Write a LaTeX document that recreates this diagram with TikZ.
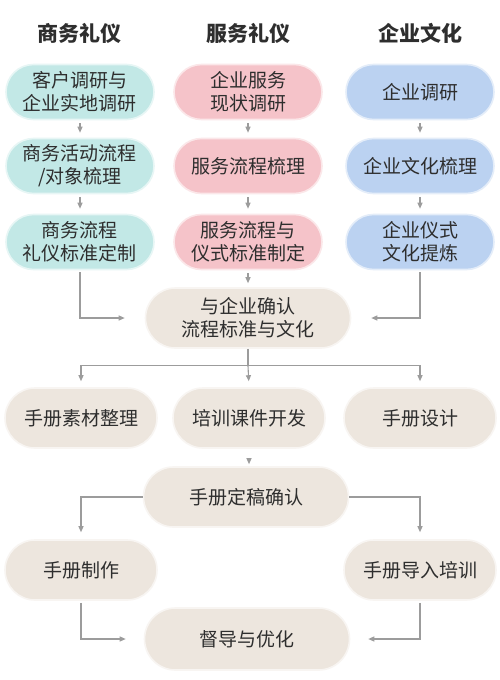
\documentclass[tikz,border=0pt]{standalone}
\usepackage{fontspec}
\setmainfont{Noto Sans CJK SC}
\usetikzlibrary{arrows.meta,calc,shapes.misc}
\definecolor{txt}{HTML}{2E2E2E}
\definecolor{lc}{HTML}{9C9C9C}
\definecolor{teal}{HTML}{C2E8E6}
\definecolor{pink}{HTML}{F5C3C9}
\definecolor{blue}{HTML}{BBD2F1}
\definecolor{beige}{HTML}{EDE6DE}
\begin{document}
\begin{tikzpicture}[x=1pt,y=-1pt,
  pill/.style={rounded rectangle, draw=#1!40!white, fill=#1, line width=1.6pt,
    minimum height=55pt, minimum width=148pt, align=center, text=txt,
    font=\fontsize{19}{23}\selectfont, inner sep=0pt},
  wide/.style={minimum width=205pt, minimum height=60pt},
  mid/.style={minimum width=152pt, minimum height=60pt},
  hdr/.style={text=txt, font=\fontsize{21}{24}\selectfont\bfseries},
  conn/.style={draw=lc, line width=1.1pt, -{Triangle[length=6pt,width=5pt]}},
  plain/.style={draw=lc, line width=1.1pt}]
\useasboundingbox (0,0) rectangle (500,680);
\fill[white] (0,0) rectangle (500,680);
% headers
\node[hdr] (h1) at (79,33) {商务礼仪};
\node[hdr] (h2) at (248,33) {服务礼仪};
\node[hdr] (h3) at (420,33) {企业文化};
% columns
\node[pill=teal] (a1) at (80,92) {客户调研与\\企业实地调研};
\node[pill=teal] (a2) at (80,166) {商务活动流程\\/对象梳理};
\node[pill=teal] (a3) at (80,242) {商务流程\\礼仪标准定制};
\node[pill=pink] (b1) at (248,92) {企业服务\\现状调研};
\node[pill=pink] (b2) at (248,166) {服务流程梳理};
\node[pill=pink] (b3) at (248,242) {服务流程与\\仪式标准制定};
\node[pill=blue] (c1) at (420,92) {企业调研};
\node[pill=blue] (c2) at (420,166) {企业文化梳理};
\node[pill=blue] (c3) at (420,242) {企业仪式\\文化提炼};
% confirm
\node[pill=beige, wide] (conf) at (248,318) {与企业确认\\流程标准与文化};
\node[pill=beige, mid] (d1) at (81,418) {手册素材整理};
\node[pill=beige, mid] (d2) at (249,418) {培训课件开发};
\node[pill=beige, mid] (d3) at (420,418) {手册设计};
\node[pill=beige, wide] (e) at (246,497) {手册定稿确认};
\node[pill=beige, mid] (f1) at (81,570) {手册制作};
\node[pill=beige, mid] (f2) at (420,570) {手册导入培训};
\node[pill=beige, wide, minimum height=62pt] (g) at (247,639) {督导与优化};
% arrows in columns
\foreach \u/\v in {a1/a2,a2/a3,b1/b2,b2/b3,c1/c2,c2/c3}
  \draw[conn, shorten <=3pt, shorten >=5pt] (\u.south) -- (\v.north);
\draw[conn, shorten <=3pt, shorten >=4pt] (b3.south) -- (conf.north);
\draw[conn, shorten <=2pt, shorten >=20pt] (a3.south) |- (conf.west);
\draw[conn, shorten <=2pt, shorten >=20pt] (c3.south) |- (conf.east);
% split
\coordinate (s1) at ($(conf.south)+(0,17)$);
\draw[plain] (conf.south) -- (s1);
\draw[conn, shorten >=6pt] (s1) -| (d1.north);
\draw[conn, shorten >=6pt] (s1) -| (d3.north);
\draw[conn, shorten >=6pt] (s1) -- (d2.north);
\draw[conn, shorten <=9pt, shorten >=2pt] (d2.south) -- (d2.south |- e.north);
\draw[conn, shorten >=7pt] (e.west) -| (f1.north);
\draw[conn, shorten >=7pt] (e.east) -| (f2.north);
\draw[conn, shorten <=2pt, shorten >=18pt] (f1.south) |- (g.west);
\draw[conn, shorten <=2pt, shorten >=18pt] (f2.south) |- (g.east);
\end{tikzpicture}
\end{document}
